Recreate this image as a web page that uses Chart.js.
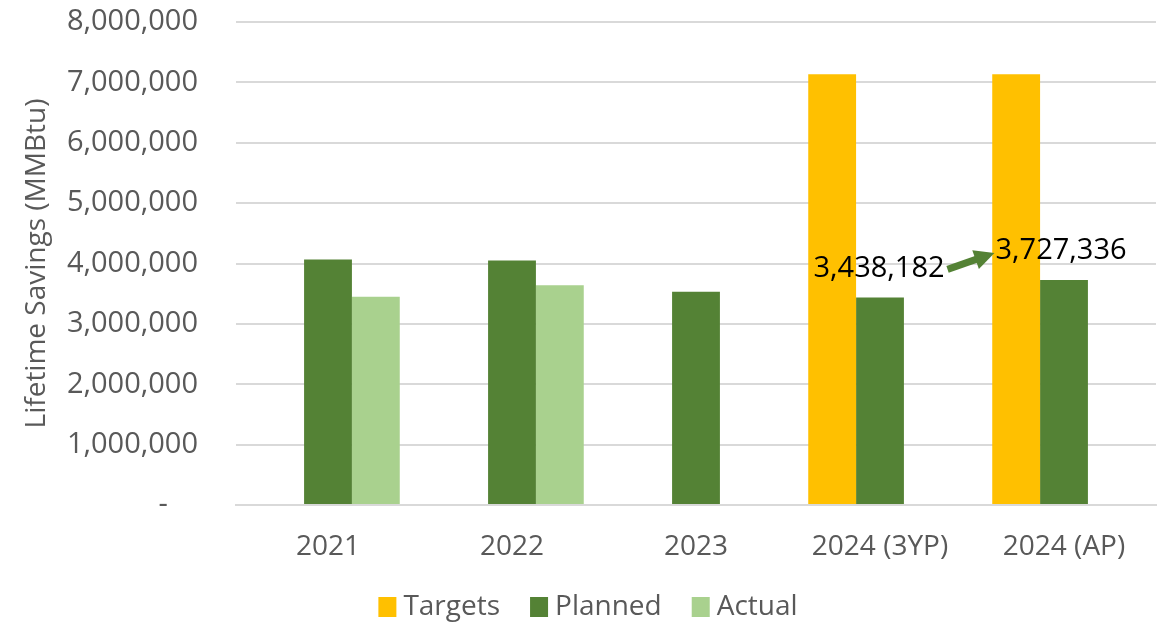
<!DOCTYPE html>
<html>
<head>
<meta charset="utf-8">
<script src="https://cdn.jsdelivr.net/npm/chart.js@4"></script>
<style>
html,body{margin:0;padding:0;background:#fff;}
#wrap{width:1168px;height:623px;position:relative;}
</style>
</head>
<body>
<div id="wrap"><canvas id="c" width="1168" height="623"></canvas></div>
<script>
const categories = ['2021', '2022', '2023', '2024 (3YP)', '2024 (AP)'];
const targets = [null, null, null, 7133000, 7133000];
const planned = [4067000, 4050000, 3534000, 3438182, 3727336];
const actual = [3449000, 3639000, null, null, null];
const seriesNames = ['Targets', 'Planned', 'Actual'];
const seriesColors = ['#FFC000', '#548235', '#A9D18E'];
const yTicks = [0, 1000000, 2000000, 3000000, 4000000, 5000000, 6000000, 7000000, 8000000];
const annotFrom = { index: 3, value: 3438182, label: '3,438,182' };
const annotTo = { index: 4, value: 3727336, label: '3,727,336' };

const fmt = v => v === 0 ? '-    ' : v.toLocaleString('en-US');
const FONT = "'Open Sans', 'DejaVu Sans', sans-serif";

const annotPlugin = {
  id: 'annot',
  afterDatasetsDraw(chart) {
    const ctx = chart.ctx;
    const x = chart.scales.x, y = chart.scales.y;
    ctx.save();
    ctx.font = "29px " + FONT;
    ctx.fillStyle = '#000';
    ctx.textBaseline = 'middle';
    ctx.textAlign = 'center';
    const y1 = y.getPixelForValue(annotFrom.value) - 29;
    const x1c = x.getPixelForValue(annotFrom.index) - 1;
    ctx.fillText(annotFrom.label, x1c, y1);
    const y2 = y.getPixelForValue(annotTo.value) - 29;
    const x2c = x.getPixelForValue(annotTo.index) - 3;
    ctx.fillText(annotTo.label, x2c, y2);
    const w1 = ctx.measureText(annotFrom.label).width;
    const w2 = ctx.measureText(annotTo.label).width;
    const ax0 = x1c + w1 / 2 + 3, ay0 = y1 + 1;
    const ax1 = x2c - w2 / 2 - 1, ay1 = y2 + 2;
    const ang = Math.atan2(ay1 - ay0, ax1 - ax0);
    const head = 20;
    const hx = ax1 - head * Math.cos(ang), hy = ay1 - head * Math.sin(ang);
    ctx.strokeStyle = '#548235';
    ctx.fillStyle = '#548235';
    ctx.lineWidth = 7;
    ctx.beginPath();
    ctx.moveTo(ax0, ay0);
    ctx.lineTo(hx + 2 * Math.cos(ang), hy + 2 * Math.sin(ang));
    ctx.stroke();
    ctx.beginPath();
    ctx.moveTo(ax1, ay1);
    ctx.lineTo(hx + 10 * Math.sin(ang), hy - 10 * Math.cos(ang));
    ctx.lineTo(hx - 10 * Math.sin(ang), hy + 10 * Math.cos(ang));
    ctx.closePath();
    ctx.fill();
    ctx.restore();
  }
};

const legendPlugin = {
  id: 'customLegend',
  afterDraw(chart) {
    const ctx = chart.ctx;
    ctx.save();
    ctx.font = "28px " + FONT;
    ctx.textBaseline = 'middle';
    ctx.textAlign = 'left';
    const box = 18, gap = 7, itemGap = 30;
    const items = chart.data.datasets.map(d => ({ text: d.label, color: d.backgroundColor, w: ctx.measureText(d.label).width }));
    const total = items.reduce((s, it) => s + box + gap + it.w, 0) + itemGap * (items.length - 1);
    let cx = 588 - total / 2;
    const cy = 607;
    items.forEach(it => {
      ctx.fillStyle = it.color;
      ctx.fillRect(cx, cy - box / 2 - 1, box, box + 2);
      ctx.fillStyle = '#595959';
      ctx.fillText(it.text, cx + box + gap, cy);
      cx += box + gap + it.w + itemGap;
    });
    ctx.restore();
  }
};

new Chart(document.getElementById('c'), {
  type: 'bar',
  data: {
    labels: categories,
    datasets: [
      { label: seriesNames[0], data: targets, backgroundColor: seriesColors[0] },
      { label: seriesNames[1], data: planned, backgroundColor: seriesColors[1] },
      { label: seriesNames[2], data: actual, backgroundColor: seriesColors[2] }
    ]
  },
  options: {
    responsive: false,
    animation: false,
    devicePixelRatio: 1,
    layout: { padding: { top: 22, right: 12, bottom: 48, left: 0 } },
    datasets: { bar: { categoryPercentage: 0.78, barPercentage: 1.0, skipNull: false } },
    plugins: {
      legend: { display: false },
      tooltip: { enabled: false }
    },
    scales: {
      x: {
        grid: { display: false, drawTicks: false },
        border: { color: '#D9D9D9', width: 2 },
        ticks: { font: { family: FONT, size: 28 }, color: '#595959', padding: 25 },
        afterFit: s => { s.height = 70; s.paddingLeft = 0; s.paddingRight = 0; }
      },
      y: {
        min: 0, max: 8000000,
        afterBuildTicks: s => { s.ticks = yTicks.map(v => ({ value: v })); },
        grid: { color: '#D9D9D9', lineWidth: 2, drawTicks: false },
        border: { display: false },
        ticks: { font: { family: FONT, size: 29 }, color: '#595959', padding: 38, callback: fmt },
        title: { display: true, text: 'Lifetime Savings (MMBtu)', font: { family: FONT, size: 28 }, color: '#595959', padding: { top: 20, bottom: 0 } },
        afterFit: s => { s.width = 236; s.paddingTop = 0; s.paddingBottom = 0; }
      }
    }
  },
  plugins: [annotPlugin, legendPlugin]
});
</script>
</body>
</html>
